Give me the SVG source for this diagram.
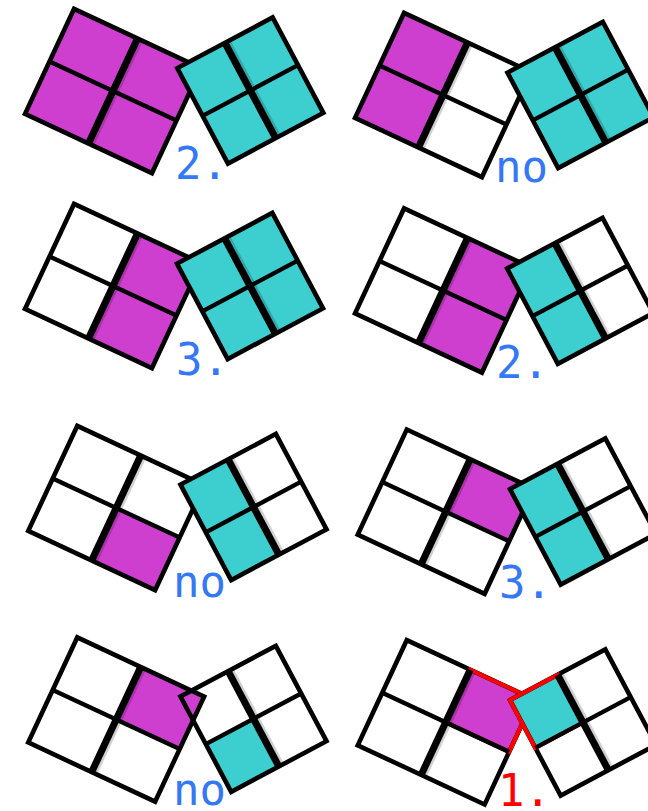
<svg xmlns="http://www.w3.org/2000/svg" xmlns:xlink="http://www.w3.org/1999/xlink" width="648" height="811" viewBox="0 0 648 811">
<style>
.m{fill:#cf3fcf}
.c{fill:#3dcfcf}
.o{fill:none;stroke:#000;stroke-width:4.6;stroke-linejoin:miter}
.tk{stroke:#000;stroke-width:7}
.ts{stroke:#000;stroke-width:9;stroke-opacity:0.18}
.tn{stroke:#000;stroke-width:4.4}
.red{fill:none;stroke:#ff0000;stroke-width:4.2;stroke-linejoin:miter}
.lb{font-family:"DejaVu Sans Mono","Liberation Mono",monospace;font-size:44px;fill:#3478f6}
.lr{font-family:"DejaVu Sans Mono","Liberation Mono",monospace;font-size:44px;fill:#ff0000}
</style>
<defs>
<g id="L">
<rect class="o" x="-70" y="-58" width="140" height="116"/>
<line class="tn" x1="-70" y1="0" x2="70" y2="0"/>
<line class="ts" x1="1.5" y1="-56" x2="1.5" y2="56"/>
<line class="tk" x1="0" y1="-58" x2="0" y2="58"/>
</g>
<g id="R">
<rect class="o" x="-54" y="-54" width="108" height="108"/>
<line class="tn" x1="-54" y1="0" x2="54" y2="0"/>
<line class="ts" x1="1.5" y1="-52" x2="1.5" y2="52"/>
<line class="tk" x1="0" y1="-54" x2="0" y2="54"/>
</g>
</defs>
<rect width="648" height="811" fill="#fff"/>

<g id="panel1">
<g transform="translate(113,91) rotate(25)"><rect class="m" x="-70" y="-58" width="140" height="116"/><use href="#L"/></g>
<g transform="translate(250.3,90.5) rotate(-28)"><rect class="c" x="-54" y="-54" width="108" height="108"/><use href="#R"/></g>
<text class="lb" x="175" y="179">2.</text>
</g>

<g id="panel2">
<g transform="translate(443,95) rotate(25)"><rect class="m" x="-70" y="-58" width="70" height="116"/><use href="#L"/></g>
<g transform="translate(580.5,95) rotate(-28)"><rect class="c" x="-54" y="-54" width="108" height="108"/><use href="#R"/></g>
<text class="lb" x="495" y="182">no</text>
</g>

<g id="panel3">
<g transform="translate(113,286) rotate(25)"><rect class="m" x="0" y="-58" width="70" height="116"/><use href="#L"/></g>
<g transform="translate(250,286) rotate(-28)"><rect class="c" x="-54" y="-54" width="108" height="108"/><use href="#R"/></g>
<text class="lb" x="176" y="375">3.</text>
</g>

<g id="panel4">
<g transform="translate(443,290.5) rotate(25)"><rect class="m" x="0" y="-58" width="70" height="116"/><use href="#L"/></g>
<g transform="translate(580.2,290.8) rotate(-28)"><rect class="c" x="-54" y="-54" width="54" height="108"/><use href="#R"/></g>
<text class="lb" x="496" y="378">2.</text>
</g>

<g id="panel5">
<g transform="translate(116.2,508) rotate(25)"><rect class="m" x="0" y="0" width="70" height="58"/><use href="#L"/></g>
<g transform="translate(253.5,507) rotate(-28)"><rect class="c" x="-54" y="-54" width="54" height="108"/><use href="#R"/></g>
<text class="lb" x="173" y="597">no</text>
</g>

<g id="panel6">
<g transform="translate(445.7,511.7) rotate(25)"><rect class="m" x="0" y="-58" width="70" height="58"/><use href="#L"/></g>
<g transform="translate(583,511.5) rotate(-28)"><rect class="c" x="-54" y="-54" width="54" height="108"/><use href="#R"/></g>
<text class="lb" x="499" y="598">3.</text>
</g>

<g id="panel7">
<g transform="translate(116.2,719.5) rotate(25)"><rect class="m" x="0" y="-58" width="70" height="58"/><use href="#L"/></g>
<g transform="translate(253.5,718.8) rotate(-28)"><rect class="c" x="-54" y="0" width="54" height="54"/><use href="#R"/></g>
<text class="lb" x="173" y="805">no</text>
</g>

<g id="panel8">
<g transform="translate(445.7,722.3) rotate(25)"><rect class="m" x="0" y="-58" width="70" height="58"/><rect class="o" x="-70" y="-58" width="140" height="116"/><rect class="red" x="0" y="-58" width="70" height="58"/><line class="tn" x1="-70" y1="0" x2="70" y2="0"/><line class="ts" x1="1.5" y1="-56" x2="1.5" y2="56"/><line class="tk" x1="0" y1="-58" x2="0" y2="58"/></g>
<g transform="translate(583,722.5) rotate(-28)"><rect class="c" x="-54" y="-54" width="54" height="54"/><rect class="o" x="-54" y="-54" width="108" height="108"/><rect class="red" x="-54" y="-54" width="54" height="54"/><line class="tn" x1="-54" y1="0" x2="54" y2="0"/><line class="ts" x1="1.5" y1="-52" x2="1.5" y2="52"/><line class="tk" x1="0" y1="-54" x2="0" y2="54"/></g>
<text class="lr" x="498" y="806">1.</text>
</g>
</svg>
